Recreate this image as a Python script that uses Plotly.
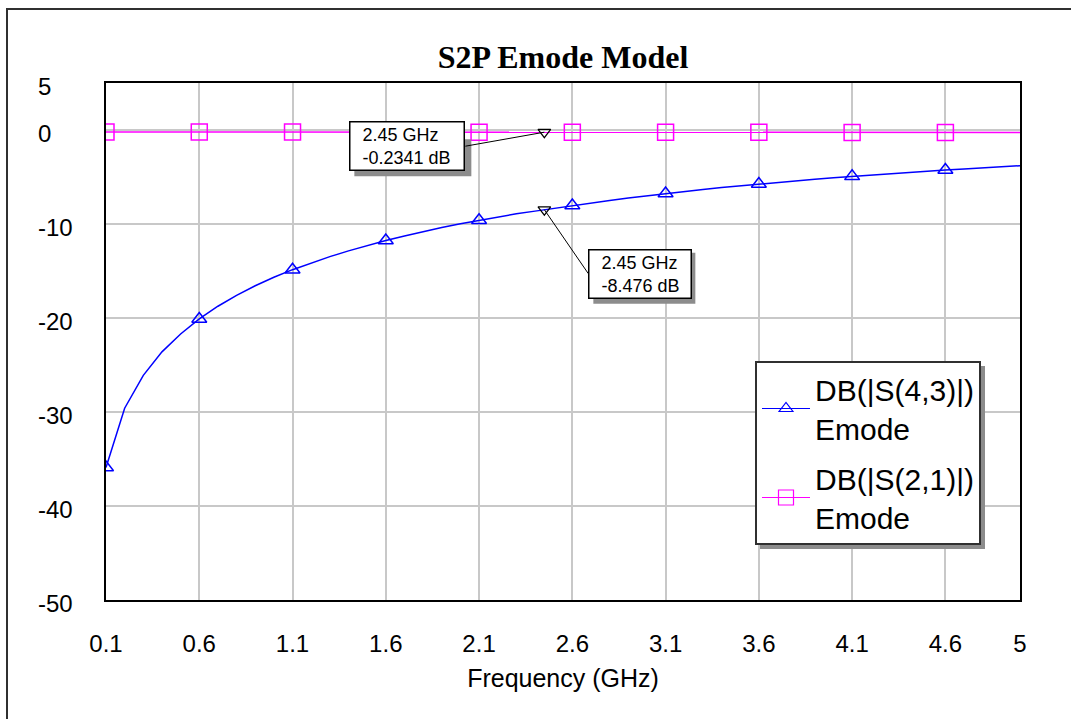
import plotly.graph_objects as go

# ---------------- data ----------------
freq_ghz = [0.1, 0.2, 0.3, 0.4, 0.5, 0.6, 0.7, 0.8, 0.9, 1.0,
            1.1, 1.2, 1.3, 1.4, 1.5, 1.6, 1.7, 1.8, 1.9, 2.0,
            2.1, 2.2, 2.3, 2.4, 2.5, 2.6, 2.7, 2.8, 2.9, 3.0,
            3.1, 3.2, 3.3, 3.4, 3.5, 3.6, 3.7, 3.8, 3.9, 4.0,
            4.1, 4.2, 4.3, 4.4, 4.5, 4.6, 4.7, 4.8, 4.9, 5.0]

s43_db = [-35.9, -29.6, -26.1, -23.6, -21.7, -20.1, -18.75, -17.6, -16.57, -15.67,
          -14.86, -14.14, -13.47, -12.86, -12.29, -11.76, -11.27, -10.81, -10.38, -9.98,
          -9.60, -9.24, -8.92, -8.63, -8.33, -8.04, -7.76, -7.49, -7.23, -6.99,
          -6.76, -6.54, -6.33, -6.13, -5.94, -5.75, -5.57, -5.40, -5.24, -5.08,
          -4.93, -4.79, -4.65, -4.51, -4.38, -4.26, -4.14, -4.02, -3.91, -3.80]

s21_db = [-0.204, -0.205, -0.206, -0.208, -0.209, -0.210, -0.211, -0.213, -0.214, -0.215,
          -0.216, -0.218, -0.219, -0.220, -0.221, -0.222, -0.224, -0.225, -0.226, -0.227,
          -0.229, -0.230, -0.231, -0.233, -0.235, -0.236, -0.237, -0.238, -0.239, -0.241,
          -0.242, -0.243, -0.244, -0.246, -0.247, -0.248, -0.249, -0.250, -0.252, -0.253,
          -0.254, -0.255, -0.257, -0.258, -0.259, -0.260, -0.261, -0.263, -0.264, -0.265]

x_tick_vals = [0.1, 0.6, 1.1, 1.6, 2.1, 2.6, 3.1, 3.6, 4.1, 4.6, 5]
x_tick_text = ["0.1", "0.6", "1.1", "1.6", "2.1", "2.6", "3.1", "3.6", "4.1", "4.6", "5"]
y_tick_vals = [5, 0, -10, -20, -30, -40, -50]
y_tick_text = ["5", "0", "-10", "-20", "-30", "-40", "-50"]

name_s43 = "DB(|S(4,3)|)<br>Emode"
name_s21 = "DB(|S(2,1)|)<br>Emode"

marker_freq = 2.45
marker_s21 = -0.2341
marker_s43 = -8.476

MARK_STEP = 5  # symbols every 0.5 GHz

BLUE = "#0000ff"
MAGENTA = "#ff00ff"
SHADOW = "#8c8c8c"
SANS = "Liberation Sans, Arial, sans-serif"
NB = "\u00a0"

fig = go.Figure()

# curves
fig.add_trace(go.Scatter(x=freq_ghz, y=s21_db, mode="lines",
                         line=dict(color=MAGENTA, width=1.5), showlegend=False))
fig.add_trace(go.Scatter(x=freq_ghz, y=s43_db, mode="lines",
                         line=dict(color=BLUE, width=1.5), showlegend=False))
# symbols
fig.add_trace(go.Scatter(x=freq_ghz[::MARK_STEP], y=s21_db[::MARK_STEP], mode="markers",
                         marker=dict(symbol="square-open", size=16, color=MAGENTA,
                                     line=dict(width=1.5, color=MAGENTA)),
                         showlegend=False))
fig.add_trace(go.Scatter(x=freq_ghz[::MARK_STEP], y=s43_db[::MARK_STEP], mode="markers",
                         marker=dict(symbol="triangle-up-open", size=13, color=BLUE,
                                     line=dict(width=1.5, color=BLUE)),
                         showlegend=False))

# marker readout points
fig.add_trace(go.Scatter(x=[marker_freq, marker_freq], y=[marker_s21, marker_s43],
                         mode="markers",
                         marker=dict(symbol="triangle-down-open", size=11, color="black",
                                     line=dict(width=1.2, color="black")),
                         showlegend=False))

# legend entries
fig.add_trace(go.Scatter(x=[None], y=[None], mode="lines+markers", name=name_s43,
                         legendgroup="a",
                         line=dict(color=BLUE, width=1.2),
                         marker=dict(symbol="triangle-up-open", size=12, color=BLUE,
                                     line=dict(width=1.2, color=BLUE))))
fig.add_trace(go.Scatter(x=[None], y=[None], mode="lines+markers", name=name_s21,
                         legendgroup="b",
                         line=dict(color=MAGENTA, width=1.2),
                         marker=dict(symbol="square-open", size=15, color=MAGENTA,
                                     line=dict(width=1.2, color=MAGENTA))))

L, R, T, B = 106, 51, 83, 119
W, H = 1071, 719
PW, PH = W - L - R, H - T - B


def px(xpix):
    return (xpix - L) / PW


def py(ypix):
    return (H - B - ypix) / PH


annotations = []
# y tick labels (left aligned)
for v, t in zip(y_tick_vals, y_tick_text):
    annotations.append(dict(x=px(36), xref="paper", y=v, yref="y", text=t,
                            showarrow=False, xanchor="left", yanchor="middle",
                            yshift=-3, font=dict(family=SANS, size=24, color="black")))

shapes = [
    # outer frame
    dict(type="rect", xref="paper", yref="paper", x0=px(7), y0=py(760), x1=px(1110), y1=py(9),
         line=dict(color="#303030", width=2), fillcolor="rgba(0,0,0,0)", layer="below"),
    # legend shadow
    dict(type="rect", xref="paper", yref="paper", x0=px(760), y0=py(549), x1=px(985), y1=py(366),
         line=dict(width=0), fillcolor=SHADOW, layer="above"),
]

# readout boxes: (value, text, anchor side, arrow dx, arrow dy, width, shadow box px offsets)
readouts = [
    (marker_s21, NB + NB + f"{marker_freq:g} GHz<br>" + NB + NB + f"{marker_s21:g} dB",
     "right", -79, 14, 109, (-190, -73, -7, -44)),
    (marker_s43, NB + NB + f"{marker_freq:g} GHz<br>" + NB + NB + f"{marker_s43:g} dB",
     "left", 44, 64, 97, (49, 151, -43, -94)),
]
for yv, txt, xa, ax, ay, wd, (sx0, sx1, sy0, sy1) in readouts:
    shapes.append(dict(type="rect", xref="x", yref="y",
                       xsizemode="pixel", ysizemode="pixel",
                       xanchor=marker_freq, yanchor=yv,
                       x0=sx0, x1=sx1, y0=sy0, y1=sy1,
                       line=dict(width=0), fillcolor=SHADOW, layer="above"))
    annotations.append(dict(x=marker_freq, y=yv, xref="x", yref="y", text=txt,
                            showarrow=True, arrowhead=0, arrowwidth=1, arrowcolor="black",
                            ax=ax, ay=ay, xanchor=xa, yanchor="middle", align="left", width=wd,
                            bgcolor="white", bordercolor="black", borderwidth=1.5,
                            borderpad=2, font=dict(family=SANS, size=18, color="black")))

fig.update_layout(
    width=W, height=H,
    margin=dict(l=L, r=R, t=T, b=B),
    paper_bgcolor="white", plot_bgcolor="white",
    title=dict(text="<b>S2P Emode Model</b>", x=0.5, xref="paper", xanchor="center",
               y=1 - 57 / H, yref="container", yanchor="middle",
               font=dict(family="Liberation Serif, Times New Roman, serif", size=32, color="black")),
    xaxis=dict(range=[0.1, 5], tickmode="array", tickvals=x_tick_vals, ticktext=x_tick_text,
               showgrid=True, gridcolor="#c8c8c8", gridwidth=1.5, zeroline=False,
               showline=True, linecolor="black", linewidth=2, mirror=True,
               ticks="", ticklabelstandoff=21,
               tickfont=dict(family=SANS, size=24, color="black"),
               title=dict(text="Frequency (GHz)", standoff=14,
                          font=dict(family=SANS, size=25, color="black"))),
    yaxis=dict(range=[-50, 5], tickmode="array", tickvals=y_tick_vals,
               showgrid=True, gridcolor="#c8c8c8", gridwidth=1.5, zeroline=False,
               showline=True, linecolor="black", linewidth=2, mirror=True,
               ticks="", showticklabels=False),
    legend=dict(x=px(755), y=py(361), xanchor="left", yanchor="top",
                bgcolor="white", bordercolor="#303030", borderwidth=2,
                font=dict(family=SANS, size=30, color="black"),
                traceorder="grouped", tracegroupgap=8, itemwidth=48),
    annotations=annotations,
    shapes=shapes,
)

fig.write_html("out.html")
